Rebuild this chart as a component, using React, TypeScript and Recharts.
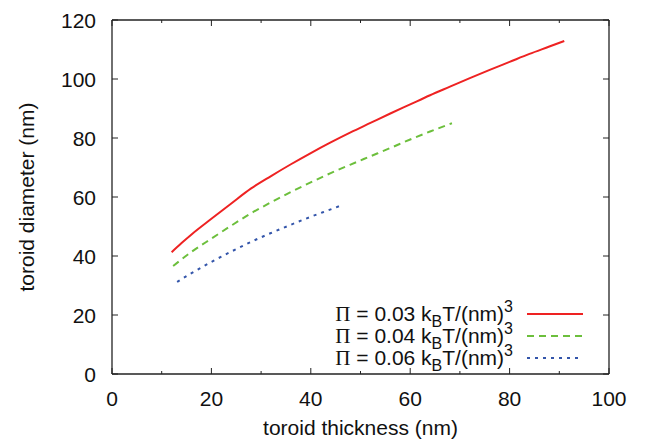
import React from 'react';
import { LineChart, Line, XAxis, YAxis } from 'recharts';

// Pi = 0.03 kBT/(nm)^3
const red_x = [12, 14, 16, 20, 24, 28, 32, 36, 40, 44, 48, 52, 56, 60, 64, 68, 72, 76, 80, 84, 88, 91];
const red_y = [41.3, 44.4, 47.3, 52.6, 57.8, 62.9, 67.1, 71.1, 74.9, 78.5, 81.9, 85.1, 88.3, 91.4, 94.5, 97.4, 100.3, 103.1, 105.8, 108.5, 111, 112.9];

// Pi = 0.04
const green_x = [12.3, 16, 20, 24, 28, 32, 36, 40.8, 44, 48, 52, 56, 60, 64, 68.4];
const green_y = [36.6, 41.4, 45.9, 50.3, 54.5, 58.2, 61.7, 65.6, 68.1, 71, 73.8, 76.6, 79.5, 82.2, 85];

// Pi = 0.06
const blue_x = [13.1, 16, 20, 24, 28, 32, 36, 40, 44, 45.9];
const blue_y = [31.2, 34.2, 38, 41.5, 44.8, 47.8, 50.6, 53.3, 55.8, 57];

const xTicks = [0, 10, 20, 30, 40, 50, 60, 70, 80, 90, 100];
const yTicks = [0, 20, 40, 60, 80, 100, 120];

const toPts = (xs: number[], ys: number[]) => xs.map((x, i) => ({ x, y: ys[i] }));

const redData = toPts(red_x, red_y);
const greenData = toPts(green_x, green_y);
const blueData = toPts(blue_x, blue_y);

const FONT = '"Liberation Sans", Arial, Helvetica, sans-serif';
const FS = 21;

const BOTTOM = 374;
const TOP = 20;
const LEFT = 112;
const RIGHT = 609;

const BottomTick = (props: any) => {
  const { x, payload } = props;
  const major = payload.value % 20 === 0;
  return (
    <g>
      <line x1={x} x2={x} y1={BOTTOM} y2={BOTTOM - (major ? 6 : 3)} stroke="#222" strokeWidth={1} />
      {major && (
        <text x={x} y={BOTTOM + 32} textAnchor="middle" fontSize={FS} fontFamily={FONT} fill="#111">
          {payload.value}
        </text>
      )}
    </g>
  );
};

const TopTick = (props: any) => {
  const { x, payload } = props;
  const major = payload.value % 20 === 0;
  return <line x1={x} x2={x} y1={TOP} y2={TOP + (major ? 6 : 3)} stroke="#222" strokeWidth={1} />;
};

const LeftTick = (props: any) => {
  const { y, payload } = props;
  return (
    <g>
      <line x1={LEFT} x2={LEFT + 6} y1={y} y2={y} stroke="#222" strokeWidth={1} />
      <text x={LEFT - 16} y={y + 7.5} textAnchor="end" fontSize={FS} fontFamily={FONT} fill="#111">
        {payload.value}
      </text>
    </g>
  );
};

const RightTick = (props: any) => {
  const { y } = props;
  return <line x1={RIGHT} x2={RIGHT - 6} y1={y} y2={y} stroke="#222" strokeWidth={1} />;
};

const series = [
  { label: '0.03', color: '#ee2222', dash: undefined },
  { label: '0.04', color: '#6cbf3c', dash: '7 5' },
  { label: '0.06', color: '#3355aa', dash: '3 5' },
];

const Legend = () => (
  <div style={{ position: 'absolute', left: 0, top: 0, width: 647, height: 445, pointerEvents: 'none', fontFamily: FONT, fontSize: FS, color: '#111' }}>
    {series.map((s, i) => (
      <div key={s.label} style={{ position: 'absolute', right: 647 - 513, top: 300 + i * 22, whiteSpace: 'nowrap', lineHeight: '28px' }}>
        <span style={{ fontFamily: '"Liberation Serif", "Times New Roman", serif' }}>Π</span>
        {' = ' + s.label + ' k'}
        <span style={{ fontSize: 16, position: 'relative', top: 6 }}>B</span>
        {'T/(nm)'}
        <span style={{ fontSize: 16, position: 'relative', top: -9 }}>3</span>
      </div>
    ))}
    <svg width={647} height={445} style={{ position: 'absolute', left: 0, top: 0 }}>
      {series.map((s, i) => (
        <line key={s.label} x1={527} x2={583} y1={314 + i * 22} y2={314 + i * 22} stroke={s.color} strokeWidth={2} strokeDasharray={s.dash} />
      ))}
    </svg>
  </div>
);

const axisLine = { stroke: '#222', strokeWidth: 1.3 };

export default function App() {
  return (
    <div style={{ position: 'absolute', left: 0, top: 0, width: 647, height: 445, background: '#fff' }}>
      <LineChart width={647} height={445} margin={{ top: TOP - 10, right: 647 - RIGHT - 10, left: LEFT - 40, bottom: 445 - BOTTOM - 30 }}>
        <XAxis xAxisId="b" type="number" dataKey="x" domain={[0, 100]} ticks={xTicks} interval={0}
          height={30} tickLine={false} axisLine={axisLine} tick={<BottomTick />} allowDataOverflow />
        <XAxis xAxisId="t" orientation="top" type="number" dataKey="x" domain={[0, 100]} ticks={xTicks} interval={0}
          height={10} tickLine={false} axisLine={axisLine} tick={<TopTick />} allowDataOverflow />
        <YAxis yAxisId="l" type="number" domain={[0, 120]} ticks={yTicks} interval={0}
          width={40} tickLine={false} axisLine={axisLine} tick={<LeftTick />} allowDataOverflow />
        <YAxis yAxisId="r" orientation="right" type="number" domain={[0, 120]} ticks={yTicks} interval={0}
          width={10} tickLine={false} axisLine={axisLine} tick={<RightTick />} allowDataOverflow />
        <Line xAxisId="b" yAxisId="l" data={redData} dataKey="y" type="monotone" stroke="#ee2222" strokeWidth={2} dot={false} isAnimationActive={false} />
        <Line xAxisId="b" yAxisId="l" data={greenData} dataKey="y" type="monotone" stroke="#6cbf3c" strokeWidth={2} strokeDasharray="7 5" dot={false} isAnimationActive={false} />
        <Line xAxisId="b" yAxisId="l" data={blueData} dataKey="y" type="monotone" stroke="#3355aa" strokeWidth={2} strokeDasharray="3 5" dot={false} isAnimationActive={false} />
      </LineChart>
      <div style={{ position: 'absolute', left: 0, top: 417, width: 647, paddingLeft: LEFT, paddingRight: 647 - RIGHT, boxSizing: 'border-box', textAlign: 'center', fontFamily: FONT, fontSize: FS, color: '#111', lineHeight: '22px' }}>
        toroid thickness (nm)
      </div>
      <div style={{ position: 'absolute', left: 27, top: 197, transform: 'translate(-50%, -50%) rotate(-90deg)', whiteSpace: 'nowrap', fontFamily: FONT, fontSize: FS, color: '#111' }}>
        toroid diameter (nm)
      </div>
      <Legend />
    </div>
  );
}
